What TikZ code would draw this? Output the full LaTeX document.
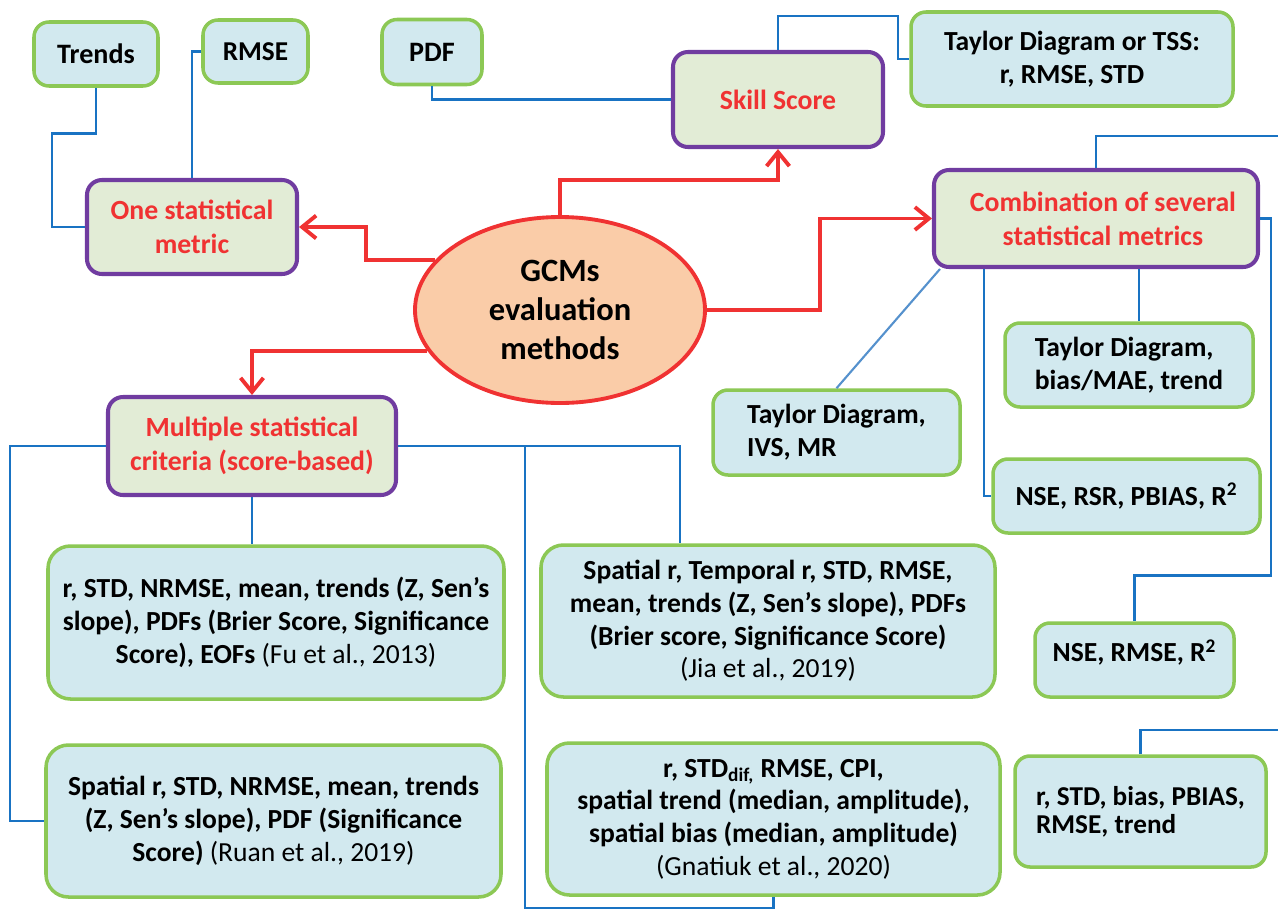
\documentclass[tikz,border=0pt]{standalone}
\usepackage{fontspec}
\setmainfont{Carlito}
\usepackage{tikz}
\usetikzlibrary{arrows.meta,shapes.geometric,calc}

\definecolor{leaffill}{RGB}{210,233,239}
\definecolor{leafdraw}{RGB}{140,200,85}
\definecolor{catfill}{RGB}{226,236,214}
\definecolor{catdraw}{RGB}{112,60,160}
\definecolor{catred}{RGB}{240,50,50}
\definecolor{rootfill}{RGB}{250,204,168}
\definecolor{linkblue}{RGB}{25,115,195}
\definecolor{diagblue}{RGB}{85,145,205}

\begin{document}
\begin{tikzpicture}
    [x=0.02cm,y=-0.02cm,>={Straight Barb[length=8pt,width=13pt,line width=2.2pt]},
        wh/.style 2 args={minimum width=#1*0.02cm,minimum height=#2*0.02cm},
        leaf/.style={draw=leafdraw,fill=leaffill,line width=2pt,rounded corners=0.3cm,
            inner sep=2pt,align=center,font=\bfseries\fontsize{15.7}{18.6}\selectfont},
        bigleaf/.style={leaf,rounded corners=0.45cm},
        cat/.style={draw=catdraw,fill=catfill,line width=2.3pt,rounded corners=0.3cm,
            align=center,text=catred,font=\bfseries\fontsize{15.8}{19.5}\selectfont},
        link/.style={draw=linkblue,line width=1.5pt},
        redarrow/.style={draw=catred,line width=2.2pt,->}]

    \useasboundingbox (0,0) rectangle (1278,910);

    % centre
    \node[ellipse,draw=catred,fill=rootfill,line width=2.2pt,wh={290}{186},inner sep=0pt,
        align=center,font=\bfseries\fontsize{18.5}{22.3}\selectfont] (root) at (560,310) {GCMs\\evaluation\\methods};

    % categories
    \node[cat,wh={210}{94}] (onestat) at (192,227) {One statistical\\metric};
    \node[cat,wh={210}{95}] (skill) at (778,99.5) {Skill Score};
    \node[cat,wh={324}{97}] (combo) at (1096,218.5) {\,\,\,Combination of several\\\,\,\,statistical metrics};
    \node[cat,wh={288}{98}] (multi) at (252,446) {Multiple statistical\\criteria (score-based)};

    % metrics
    \node[leaf,wh={124}{64},font=\bfseries\fontsize{16}{19}\selectfont] (trends) at (96,54) {Trends};
    \node[leaf,wh={105}{63},font=\bfseries\fontsize{15.5}{19}\selectfont] (rmse) at (255.5,51.5) {RMSE};
    \node[leaf,wh={100}{65},font=\bfseries\fontsize{16}{19}\selectfont] (pdf) at (432,52) {PDF};
    \node[leaf,wh={322}{94}] (taylortss) at (1072,59) {Taylor Diagram or TSS:\\r, RMSE, STD};
    \node[leaf,wh={248}{84},align=left] (tdbias) at (1129,365) {Taylor Diagram,\\bias/MAE, trend};
    \node[leaf,wh={247}{85},align=left] (tdivs) at (836.5,432.5) {Taylor Diagram,\\IVS, MR};
    \node[leaf,wh={267}{74}] (nsersr) at (1126.5,496) {NSE, RSR, PBIAS, R\textsuperscript{2}};
    \node[leaf,wh={199}{74},align=left] (nsermse) at (1134.5,660) {NSE, RMSE, R\textsuperscript{2}\\[-8pt]~};
    \node[leaf,wh={251}{111},align=left,font=\bfseries\fontsize{15.5}{16}\selectfont] (rstdbias) at (1140.5,811.5) {r, STD, bias, PBIAS,\\RMSE, trend};

    % score-based studies
    \node[bigleaf,wh={456}{153}] (fu) at (276,622.5)
        {r, STD, NRMSE, mean, trends (Z, Sen’s\\slope), PDFs (Brier Score, Significance\\Score), EOFs {\mdseries (Fu et al., 2013)}};
    \node[bigleaf,wh={454}{152}] (jia) at (768,621)
        {Spatial r, Temporal r, STD, RMSE,\\mean, trends (Z, Sen’s slope), PDFs\\(Brier score, Significance Score)\\{\mdseries (Jia et al., 2019)}};
    \node[bigleaf,wh={455}{152}] (ruan) at (273.5,821)
        {Spatial r, STD, NRMSE, mean, trends\\(Z, Sen’s slope), PDF (Significance\\Score) {\mdseries (Ruan et al., 2019)}};
    \node[bigleaf,wh={453}{152}] (gnatiuk) at (773.5,819)
        {r, STD\textsubscript{dif,} RMSE, CPI,\\spatial trend (median, amplitude),\\spatial bias (median, amplitude)\\{\mdseries (Gnatiuk et al., 2020)}};

    % lines leaving the page
    \coordinate (edgetop) at (1278,136);
    \coordinate (edgebot) at (1278,730);

    % red arrows
    \draw[redarrow] (root.158) -- ++(-69,0) |- (onestat.east);
    \draw[redarrow] (root.north) -- ++(0,-35) -| (skill.south);
    \draw[redarrow] (root.east) -- ++(113,0) |- (combo.west);
    \draw[redarrow] (root.197) -| (multi.north);

    % blue links
    \draw[link] (trends.south) |- ++(-44,46) |- (onestat.west);
    \draw[link] (rmse.west) -| (onestat.north);
    \draw[link] (pdf.south) |- (skill.west);
    \draw[link] (skill.north) |- ++(120,-34) |- (taylortss.west);
    \draw[link] (combo.north) |- (edgetop);
    \draw[link] (combo.east) -- ++(11,0) -- ++(0,357) -| (nsermse.north);
    \draw[link] ($(combo.south)+(43,0)$) -- ($(tdbias.north)+(10,0)$);
    \draw[link] ($(combo.south west)+(52,0)$) |- (nsersr.west);
    \draw[draw=diagblue,line width=1.2pt] ($(combo.south west)+(8,0)$) -- (tdivs.north);
    \draw[link] (rstdbias.north) |- (edgebot);
    \draw[link] (multi.south) -- (multi.south |- fu.north);
    \draw[link] (multi.west) -- ++(-96,0) |- (ruan.west);
    \draw[link] (multi.east) -| ($(jia.north)+(-88,0)$);
    \draw[link] ($(multi.east)+(127,0)$) -- ++(0,462) -| (gnatiuk.south);
\end{tikzpicture}
\end{document}
